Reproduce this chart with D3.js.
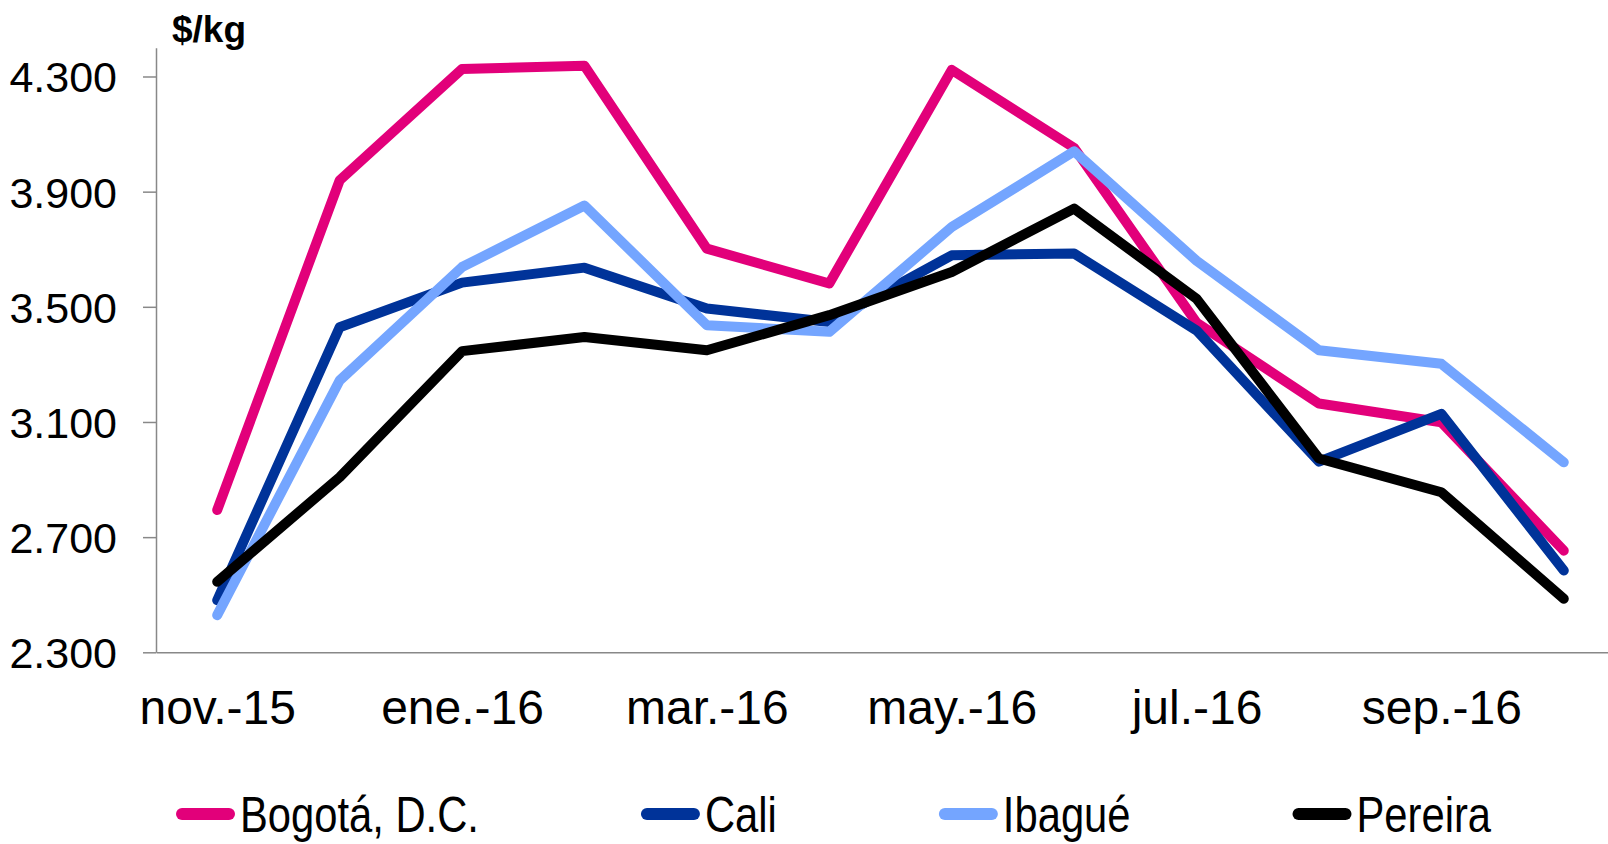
<!DOCTYPE html>
<html>
<head>
<meta charset="utf-8">
<script src="https://cdn.jsdelivr.net/npm/d3@7"></script>
<style>
  body { margin: 0; background: #fff; }
  svg { display: block; font-family: "Liberation Sans", Arial, sans-serif; }
</style>
</head>
<body>
<script>
// months on the x axis
const months = ['nov.-15', 'dic.-15', 'ene.-16', 'feb.-16', 'mar.-16', 'abr.-16',
  'may.-16', 'jun.-16', 'jul.-16', 'ago.-16', 'sep.-16', 'oct.-16'];
const monthLabels = ['nov.-15', 'ene.-16', 'mar.-16', 'may.-16', 'jul.-16', 'sep.-16'];

// prices ($/kg)
const bogota  = [2794, 3939, 4326, 4337, 3702, 3581, 4323, 4052, 3445, 3164, 3099, 2653];
const cali    = [2481, 3429, 3584, 3636, 3494, 3447, 3679, 3685, 3418, 2962, 3128, 2584];
const ibague  = [2429, 3244, 3638, 3852, 3436, 3413, 3777, 4040, 3660, 3349, 3302, 2960];
const pereira = [2545, 2908, 3346, 3395, 3349, 3471, 3621, 3841, 3528, 2973, 2856, 2486];

const seriesNames = ['Bogotá, D.C.', 'Cali', 'Ibagué', 'Pereira'];
const seriesColors = ['#e2007a', '#003399', '#74a5ff', '#000000'];
const yTicks = [2300, 2700, 3100, 3500, 3900, 4300];

const width = 1608;
const height = 844;

const series = [bogota, cali, ibague, pereira].map((values, i) => ({
  name: seriesNames[i],
  color: seriesColors[i],
  values: values
}));

const svg = d3.select('body')
  .append('svg')
  .attr('width', width)
  .attr('height', height);

// scales
const x = d3.scalePoint()
  .domain(months)
  .range([156, 1625])
  .padding(0.5);

const y = d3.scaleLinear()
  .domain([2300, 4400])
  .range([652.3, 47.7]);

// number format with dots as thousands separator
const fmt = d3.formatLocale({ decimal: ',', thousands: '.', grouping: [3], currency: ['$', ''] })
  .format(',.0f');

// y axis
const yAxis = svg.append('g')
  .attr('transform', 'translate(156,0)')
  .call(d3.axisLeft(y).tickValues(yTicks).tickFormat(fmt)
    .tickSizeInner(13).tickSizeOuter(0).tickPadding(26));
yAxis.selectAll('text')
  .attr('font-size', 43)
  .attr('font-family', '"Liberation Sans", Arial, sans-serif')
  .attr('fill', '#000')
  .attr('dy', '0.36em');

// x axis
const xAxis = svg.append('g')
  .attr('transform', 'translate(0,652.3)')
  .call(d3.axisBottom(x).tickValues(monthLabels)
    .tickSizeInner(0).tickSizeOuter(0).tickPadding(38));
xAxis.selectAll('text')
  .attr('font-size', 48)
  .attr('font-family', '"Liberation Sans", Arial, sans-serif')
  .attr('fill', '#000');

svg.selectAll('.domain, .tick line')
  .attr('stroke', '#888')
  .attr('stroke-width', 1.5);

// unit label
svg.append('text')
  .attr('x', 172)
  .attr('y', 42)
  .attr('font-size', 37)
  .attr('font-weight', 'bold')
  .text('$/kg');

// lines
const line = d3.line()
  .x((d, i) => x(months[i]))
  .y(d => y(d));

svg.selectAll('path.series')
  .data(series)
  .enter()
  .append('path')
  .attr('class', 'series')
  .attr('d', d => line(d.values))
  .attr('fill', 'none')
  .attr('stroke', d => d.color)
  .attr('stroke-width', 10)
  .attr('stroke-linecap', 'round')
  .attr('stroke-linejoin', 'round');

// legend (kept just inside the bottom edge)
const legend = svg.append('g');
const textScale = 0.835;
const legendBase = 832;
let lx = 176;
series.forEach(s => {
  const item = legend.append('g');
  item.append('line')
    .attr('x1', lx + 6)
    .attr('x2', lx + 53)
    .attr('y1', legendBase - 18)
    .attr('y2', legendBase - 18)
    .attr('stroke', s.color)
    .attr('stroke-width', 12)
    .attr('stroke-linecap', 'round');
  const t = item.append('text')
    .attr('transform', `translate(${lx + 64},${legendBase}) scale(${textScale},1)`)
    .attr('font-size', 50)
    .text(s.name);
  const w = t.node().getComputedTextLength() * textScale;
  lx = lx + 64 + w + 162;
});
</script>
</body>
</html>
